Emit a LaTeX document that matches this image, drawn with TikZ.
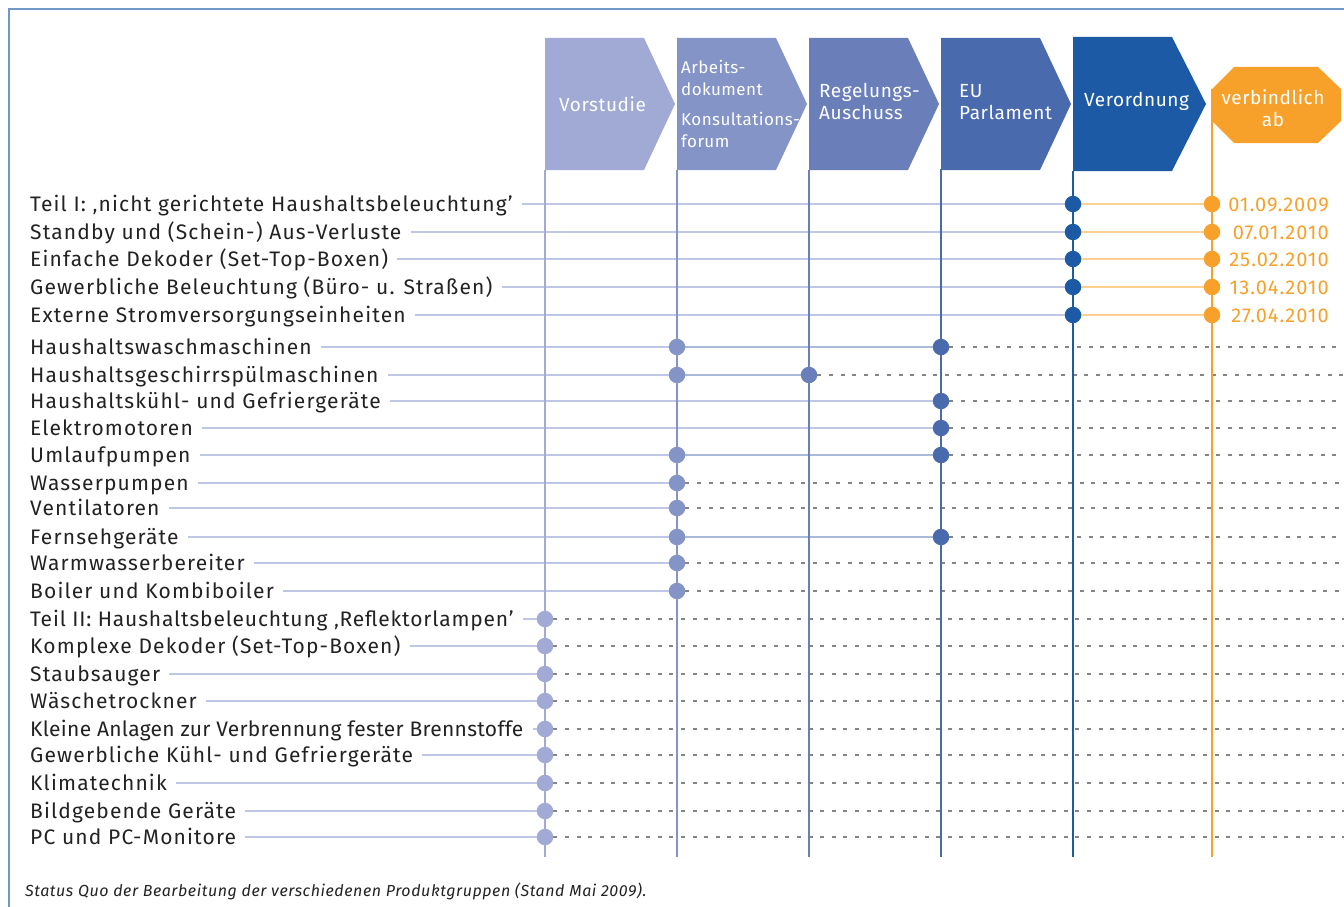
\documentclass[tikz,border=0pt]{standalone}
\usepackage{fontspec}
\setmainfont{Fira Sans}
\newfontfamily\lblfont{Fira Sans}[LetterSpace=5.5]
\newfontfamily\lblnarrow{Fira Sans}[LetterSpace=4]
\newfontfamily\lbltight{Fira Sans}[LetterSpace=1.4]
\newfontfamily\headfont{Fira Sans}[LetterSpace=3]
\newfontfamily\headsmall{Fira Sans}[LetterSpace=2.5]
\newfontfamily\datefont{Fira Sans}[LetterSpace=5]
\newfontfamily\capfont{Fira Sans}[LetterSpace=3.5]
\usetikzlibrary{positioning}

\definecolor{cVor}{HTML}{A0AAD4}
\definecolor{cArb}{HTML}{8494C7}
\definecolor{cReg}{HTML}{6A7FBA}
\definecolor{cEU}{HTML}{4A6AAE}
\definecolor{cVer}{HTML}{1C5AA5}
\definecolor{cOr}{HTML}{F7A12B}
\definecolor{cOrLight}{HTML}{FDD08F}
\definecolor{cLine}{HTML}{C0C7E5}
\definecolor{cMid}{HTML}{A8BBD8}
\definecolor{cFrame}{HTML}{6E99C6}
\definecolor{cText}{HTML}{222222}

\pgfdeclarelayer{bg}
\pgfsetlayers{bg,main}

\tikzset{
  framel/.style={cFrame, line width=2pt},
  head/.style={text=white, anchor=west, inner sep=0pt, align=left, font=\headfont\fontsize{19}{22}\selectfont},
  headsm/.style={head, font=\headsmall\fontsize{17}{21.5}\selectfont},
  coll/.style={line width=2pt},
  lbl/.style={anchor=west, inner xsep=9pt, inner ysep=0pt, text=cText, text height=14.5pt, text depth=0pt, font=\lblfont\fontsize{21}{25}\selectfont},
  dot/.style={circle, inner sep=0pt, minimum size=16.5pt},
  datel/.style={anchor=east, inner sep=0pt, text=cOr, text height=14pt, text depth=0pt, font=\datefont\fontsize{20}{24}\selectfont},
  labline/.style={cLine, line width=2.5pt},
  midline/.style={cMid, line width=2.5pt},
  orline/.style={cOrLight, line width=2.5pt},
  dotline/.style={black!48, line width=2pt, dash pattern=on 4pt off 7.6pt},
  capt/.style={anchor=west, inner sep=0pt, text=cText, font=\capfont\itshape\fontsize{16}{19}\selectfont}
}

\begin{document}
\begin{tikzpicture}[x=1pt, y=-1pt]
  \useasboundingbox (0,0) rectangle (1344,907);

  % frame
  \coordinate (F1) at (9,907);
  \coordinate (F2) at (9,9);
  \coordinate (F3) at (1344,9);
  \draw[framel] (F1) -- (F2) -- (F3);

  % phases
  \foreach \x/\c in {545/cVor, 677/cArb, 809/cReg, 941/cEU}{
    \fill[\c] (\x,38) -- ++(99,0) -- ++(31,66) -- ++(-31,66) -- ++(-99,0) -- cycle;
  }
  \fill[cVer] (1073,37) -- (1172,37) -- (1206,104) -- (1172,171) -- (1073,171) -- cycle;
  \fill[cOr] (1234,67) -- (1318,67) -- (1341,89) -- (1341,121) -- (1318,143) -- (1234,143) -- (1212,121) -- (1212,89) -- cycle;

  \node[head] (hVor) at (559,104) {Vorstudie};
  \node[headsm] (hArb) at (681,78) {Arbeits-\\dokument};
  \node[headsm] (hKon) at (681,130) {Konsultations-\\forum};
  \node[head] (hReg) at (819,101) {Regelungs-\\Auschuss};
  \node[head] (hEU) at (959,102) {EU\\Parlament};
  \node[head] (hVer) at (1084,101) {Verordnung};
  \node[head, anchor=center, align=center] (hOr) at (1273,108) {verbindlich\\ab};

  % column lines
  \foreach \x/\c/\t in {545/cVor/170, 677/cArb/170, 809/cReg/170, 941/cEU/169, 1073/cVer/171, 1212/cOr/89}{
    \draw[coll, \c] (\x,\t) -- (\x,857);
  }

  % rows with date
  \foreach \n/\y/\txt/\d in {
      1/204/{Teil I: ‚nicht gerichtete Haushaltsbeleuchtung’}/01.09.2009,
      2/232/{Standby und (Schein-) Aus-Verluste}/07.01.2010,
      3/259/{Einfache Dekoder (Set-Top-Boxen)}/25.02.2010,
      4/287/{Gewerbliche Beleuchtung (Büro- u. Straßen)}/13.04.2010,
      5/315/{Externe Stromversorgungseinheiten}/27.04.2010}{
    \node[lbl] (lab\n) at (21,\y) {\txt};
    \node[dot, fill=cVer] (p\n) at (1073,\y) {};
    \node[dot, fill=cOr] (q\n) at (1212,\y) {};
    \node[datel] (d\n) at (1329,\y) {\d};
    \begin{pgfonlayer}{bg}
      \draw[labline] (lab\n) -- (p\n);
      \draw[orline] (p\n) -- (q\n);
    \end{pgfonlayer}
  }

  % rows with two dots
  \foreach \n/\y/\txt/\a/\ca/\b/\cb in {
      6/347/{Haushaltswaschmaschinen}/677/cArb/941/cEU,
      7/375/{Haushaltsgeschirrspülmaschinen}/677/cArb/809/cReg,
      10/455/{Umlaufpumpen}/677/cArb/941/cEU,
      13/537/{Fernsehgeräte}/677/cArb/941/cEU}{
    \node[lbl] (lab\n) at (21,\y) {\txt};
    \node[dot, fill=\ca] (p\n) at (\a,\y) {};
    \node[dot, fill=\cb] (q\n) at (\b,\y) {};
    \coordinate (e\n) at (1344,\y);
    \begin{pgfonlayer}{bg}
      \draw[labline] (lab\n) -- (p\n);
      \draw[midline] (p\n) -- (q\n);
      \draw[dotline] (q\n) -- (e\n);
    \end{pgfonlayer}
  }

  % rows with one dot
  \foreach \n/\y/\txt/\a/\ca in {
      8/401/{Haushaltskühl- und Gefriergeräte}/941/cEU,
      9/428/{Elektromotoren}/941/cEU,
      11/483/{Wasserpumpen}/677/cArb,
      12/508/{Ventilatoren}/677/cArb,
      14/563/{Warmwasserbereiter}/677/cArb,
      15/591/{Boiler und Kombiboiler}/677/cArb,
      16/619/{\lblnarrow Teil II: Haushaltsbeleuchtung ‚Reflektorlampen’}/545/cVor,
      17/646/{Komplexe Dekoder (Set-Top-Boxen)}/545/cVor,
      18/674/{Staubsauger}/545/cVor,
      19/701/{Wäschetrockner}/545/cVor,
      20/729/{\lbltight Kleine Anlagen zur Verbrennung fester Brennstoffe}/545/cVor,
      21/755/{Gewerbliche Kühl- und Gefriergeräte}/545/cVor,
      22/783/{Klimatechnik}/545/cVor,
      23/811/{Bildgebende Geräte}/545/cVor,
      24/837/{PC und PC-Monitore}/545/cVor}{
    \node[lbl] (lab\n) at (21,\y) {\txt};
    \node[dot, fill=\ca] (p\n) at (\a,\y) {};
    \coordinate (e\n) at (1344,\y);
    \begin{pgfonlayer}{bg}
      \draw[labline] (lab\n) -- (p\n);
      \draw[dotline] (p\n) -- (e\n);
    \end{pgfonlayer}
  }

  % caption
  \node[capt] (cap) at (25,891) {Status Quo der Bearbeitung der verschiedenen Produktgruppen (Stand Mai 2009).};
\end{tikzpicture}
\end{document}
